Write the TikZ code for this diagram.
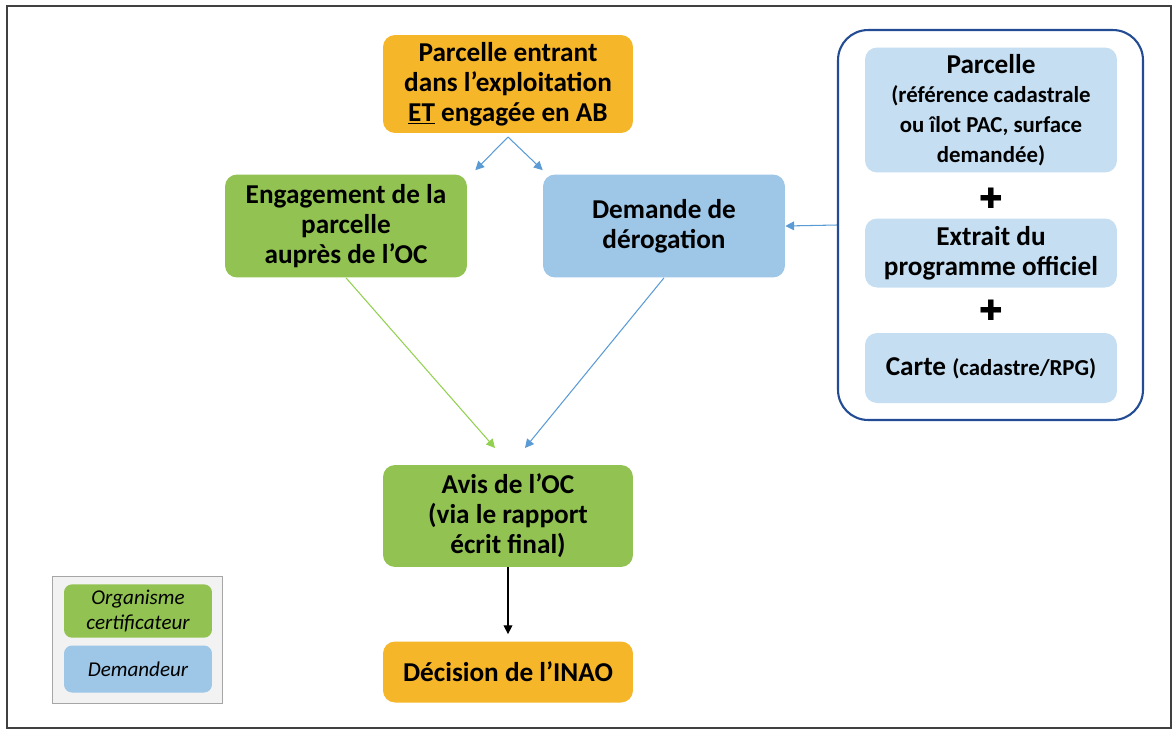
\documentclass[tikz,border=0pt]{standalone}
\usepackage{fontspec}
\setmainfont{Carlito}
\newfontfamily\symfont{DejaVu Sans}
\usetikzlibrary{arrows.meta}

\definecolor{boxorange}{HTML}{F6B62A}
\definecolor{boxgreen}{HTML}{92C352}
\definecolor{boxblue}{HTML}{9DC6E7}
\definecolor{boxpale}{HTML}{C6DEF1}
\definecolor{framedark}{HTML}{234C94}
\definecolor{linkblue}{HTML}{5B9BD5}
\definecolor{linkgreen}{HTML}{92D050}

\newcommand\subtxt{\fontsize{13}{16}\selectfont}

\tikzset{
  stepbox/.style={rounded corners=0.24cm, align=center, inner sep=2pt,
    font=\fontsize{15.5}{17}\selectfont\bfseries},
  orangebox/.style={stepbox, fill=boxorange},
  greenbox/.style={stepbox, fill=boxgreen},
  bluebox/.style={stepbox, fill=boxblue},
  palebox/.style={stepbox, fill=boxpale, minimum width=5.04cm},
  keybox/.style={rounded corners=0.16cm, align=center, minimum width=2.96cm,
    minimum height=0.94cm, font=\fontsize{12}{14}\selectfont\itshape},
  link/.style={-{Triangle[length=5pt,width=5pt]}, line width=0.6pt},
}

\begin{document}
\begin{tikzpicture}[x=0.02cm,y=-0.02cm]
\useasboundingbox (0,0) rectangle (1174,731);
\draw[black!75, line width=1pt] (7,6) rectangle (1171,728);

% main chain
\node[orangebox, minimum width=5cm, minimum height=1.96cm] (entree) at (508,84)
  {Parcelle entrant\\dans l'exploitation\\\underline{ET} engagée en AB};
\node[greenbox, minimum width=4.84cm, minimum height=2.06cm] (engag) at (346,226)
  {Engagement de la\\parcelle\\auprès de l'OC};
\node[bluebox, minimum width=4.84cm, minimum height=2.06cm] (derog) at (664,226)
  {Demande de\\dérogation};
\node[greenbox, minimum width=5cm, minimum height=2.04cm] (avis) at (508,516)
  {Avis de l'OC\\(via le rapport\\écrit final)};
\node[orangebox, minimum width=5cm, minimum height=1.22cm] (decis) at (508,672)
  {Décision de l'INAO};

% pieces of the file
\node[draw=framedark, line width=1.2pt, rounded corners=0.6cm,
  minimum width=6.1cm, minimum height=7.8cm] (dossier) at (990.5,225) {};
\node[palebox, minimum height=2.5cm] (parc) at (991,110)
  {Parcelle\\\subtxt(référence cadastrale\\\subtxt ou îlot PAC, surface\\\subtxt demandée)};
\node[font=\symfont\fontsize{16}{16}\selectfont] (plusa) at (991,198) {✚};
\node[palebox, minimum height=1.38cm] (extrait) at (991,253)
  {Extrait du\\programme officiel};
\node[font=\symfont\fontsize{16}{16}\selectfont] (plusb) at (991,310) {✚};
\node[palebox, minimum height=1.4cm] (carte) at (991,368)
  {Carte \subtxt(cadastre/RPG)};

% legend
\draw[fill=black!5, draw=black!35] (52,576) rectangle (222,703);
\node[keybox, fill=boxgreen] (keyoc) at (138,611) {Organisme\\certificateur};
\node[keybox, fill=boxblue] (keydem) at (138,669) {Demandeur};

% connectors
\coordinate (split) at (508,137);
\coordinate (avisl) at (495,448);
\coordinate (avisr) at (525,448);
\draw[link, linkblue] (split) -- ([shift={(8,-4)}]engag.north east);
\draw[link, linkblue] (split) -- ([shift={(0,-4)}]derog.north west);
\draw[link, linkgreen] (engag.south) -- (avisl);
\draw[link, linkblue] (derog.south) -- (avisr);
\draw[link, linkblue] (dossier.west) -- (derog.east);
\draw[link, black, shorten >=4pt] (avis.south) -- (decis.north);
\end{tikzpicture}
\end{document}
